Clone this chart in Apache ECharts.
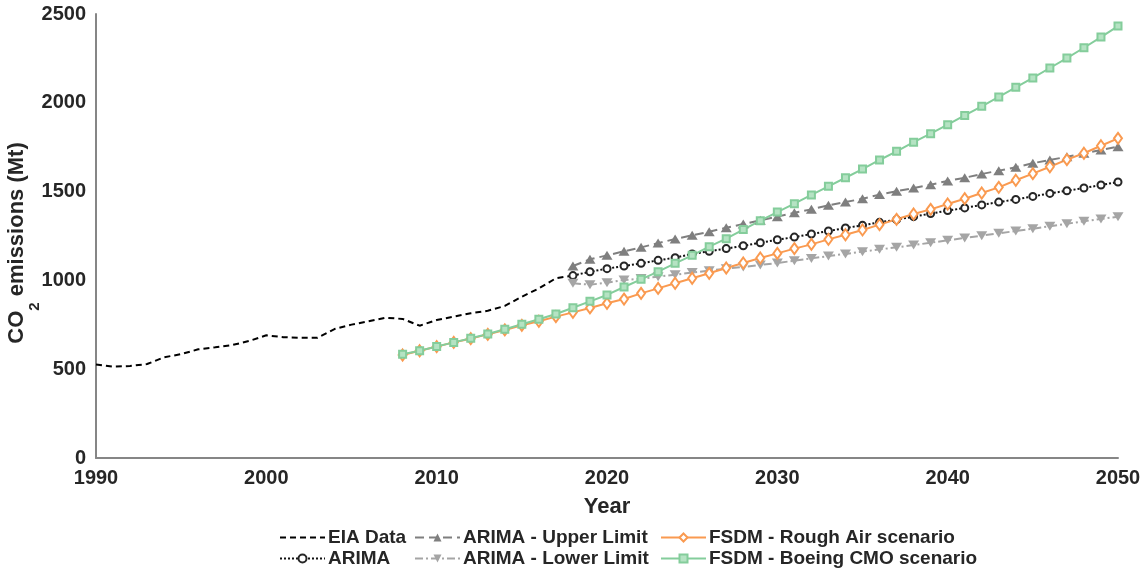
<!DOCTYPE html>
<html>
<head>
<meta charset="utf-8">
<title>CO2 emissions</title>
<script src="https://cdn.jsdelivr.net/npm/echarts@6/dist/echarts.min.js"></script>
<style>
  html, body { margin: 0; padding: 0; background: #fff; }
  #chart { width: 1142px; height: 572px; }
</style>
</head>
<body>
<div id="chart"></div>
<script>
// first year of each block of values
const eiaStart = 1990
const arimaStart = 2018
const fsdmStart = 2008
const xTicks = [1990, 2000, 2010, 2020, 2030, 2040, 2050]
const yTicks = [0, 500, 1000, 1500, 2000, 2500]

const eiaData = [527, 514, 518, 529, 567, 585, 612, 623, 636, 659, 691, 680, 677, 677, 726, 751, 770, 790, 783, 745,
  777, 796, 815, 829, 856, 908, 955, 1012, 1027]
const arima = [1027, 1049, 1066, 1081, 1096, 1113, 1128, 1149, 1164, 1179, 1195, 1212, 1229, 1244, 1261, 1278, 1295,
  1310, 1327, 1342, 1359, 1376, 1393, 1408, 1425, 1441, 1456, 1473, 1490, 1505, 1520, 1537, 1554]
const arimaUpper = [1081, 1119, 1141, 1164, 1186, 1210, 1233, 1254, 1274, 1297, 1317, 1338, 1359, 1381, 1400, 1423, 1441,
  1460, 1483, 1502, 1520, 1539, 1560, 1578, 1599, 1618, 1637, 1660, 1678, 1696, 1716, 1734, 1753]
const arimaLower = [984, 976, 987, 1002, 1010, 1021, 1032, 1044, 1055, 1066, 1076, 1087, 1098, 1111, 1124, 1137, 1149,
  1162, 1175, 1186, 1199, 1212, 1226, 1239, 1252, 1265, 1278, 1291, 1305, 1319, 1333, 1346, 1359]
const roughAir = [580, 604, 627, 651, 672, 696, 721, 747, 770, 796, 820, 845, 871, 895, 927, 955, 984, 1012, 1040, 1070,
  1098, 1126, 1152, 1179, 1203, 1231, 1257, 1284, 1314, 1344, 1374, 1400, 1430, 1460, 1492, 1524, 1564, 1601, 1640, 1680,
  1716, 1758, 1800]
const boeingCmo = [584, 604, 628, 651, 674, 698, 725, 753, 781, 811, 846, 882, 918, 963, 1006, 1049, 1096, 1141, 1190, 1235,
  1286, 1336, 1385, 1432, 1481, 1530, 1578, 1627, 1678, 1727, 1778, 1826, 1877, 1929, 1980, 2033, 2087, 2140, 2196, 2252,
  2310, 2370, 2432]

let font = "'Liberation Sans', Arial, sans-serif"
let textColor = "#262626"

function pairs(start, values) {
  return values.map((v, i) => [start + i, v])
}

function lineSeries(name, start, values, style) {
  return Object.assign({
    name: name,
    type: 'line',
    data: pairs(start, values),
    symbol: 'none',
    smooth: false,
    z: 2
  }, style)
}

let series = [
  lineSeries('EIA Data', eiaStart, eiaData, {
    itemStyle: { color: '#000' },
    lineStyle: { color: '#000', width: 2, type: [6, 4] }
  }),
  lineSeries('ARIMA', arimaStart, arima, {
    symbol: 'circle', symbolSize: 7,
    itemStyle: { color: '#fff', borderColor: '#262626', borderWidth: 2 },
    lineStyle: { color: '#111', width: 2, type: [2, 2] }
  }),
  lineSeries('ARIMA - Upper Limit', arimaStart, arimaUpper, {
    symbol: 'triangle', symbolSize: [11, 9],
    itemStyle: { color: '#7f7f7f' },
    lineStyle: { color: '#7f7f7f', width: 2, type: [9, 5] }
  }),
  lineSeries('ARIMA - Lower Limit', arimaStart, arimaLower, {
    symbol: 'triangle', symbolSize: [11, 9], symbolRotate: 180,
    itemStyle: { color: '#a5a5a5' },
    lineStyle: { color: '#a5a5a5', width: 2, type: [8, 3, 2, 3] }
  }),
  lineSeries('FSDM - Rough Air scenario', fsdmStart, roughAir, {
    symbol: 'diamond', symbolSize: [8, 11],
    itemStyle: { color: '#fff', borderColor: '#fa9a50', borderWidth: 2 },
    lineStyle: { color: '#fa9a50', width: 2 }
  }),
  lineSeries('FSDM - Boeing CMO scenario', fsdmStart, boeingCmo, {
    symbol: 'rect', symbolSize: 7,
    itemStyle: { color: '#b5e3c3', borderColor: '#84cd9b', borderWidth: 2 },
    lineStyle: { color: '#84cd9b', width: 2 }
  })
]

function legendColumn(left, names) {
  return {
    orient: 'vertical',
    left: left,
    top: 528,
    itemWidth: 45,
    itemHeight: 10,
    itemGap: 2,
    padding: 0,
    data: names,
    textStyle: { fontFamily: font, fontWeight: 'bold', fontSize: 19, color: textColor, padding: [0, 0, 0, -2] }
  }
}

let plainNumber = (v) => String(v)
let axisText = { margin: 10, fontFamily: font, fontWeight: 'bold', fontSize: 20, color: textColor, formatter: plainNumber }

let option = {
  animation: false,
  backgroundColor: '#fff',
  grid: { left: 96, right: 24, top: 14, bottom: 114, outerBoundsMode: 'none' },
  legend: [
    legendColumn(279, [{ name: 'EIA Data', itemStyle: { opacity: 0 } }, 'ARIMA']),
    legendColumn(414, ['ARIMA - Upper Limit', 'ARIMA - Lower Limit']),
    legendColumn(660, ['FSDM - Rough Air scenario', 'FSDM - Boeing CMO scenario'])
  ],
  xAxis: {
    type: 'value',
    min: xTicks[0],
    max: xTicks[xTicks.length - 1],
    interval: xTicks[1] - xTicks[0],
    name: 'Year',
    nameLocation: 'middle',
    nameGap: 38,
    nameMoveOverlap: false,
    nameTextStyle: { fontFamily: font, fontWeight: 'bold', fontSize: 22, color: textColor },
    axisLine: { show: true, lineStyle: { color: '#868686', width: 2 } },
    axisTick: { show: false },
    splitLine: { show: false },
    axisLabel: axisText
  },
  yAxis: {
    type: 'value',
    min: yTicks[0],
    max: yTicks[yTicks.length - 1],
    interval: yTicks[1] - yTicks[0],
    name: '{n|CO}{s|2}{n| emissions (Mt)}',
    nameLocation: 'middle',
    nameGap: 54,
    nameMoveOverlap: false,
    nameTextStyle: {
      padding: [0, 14, 0, 0],
      rich: {
        n: { fontFamily: font, fontWeight: 'bold', fontSize: 22, color: textColor, lineHeight: 22, verticalAlign: 'top' },
        s: { fontFamily: font, fontWeight: 'bold', fontSize: 15, color: textColor, lineHeight: 36, verticalAlign: 'bottom' }
      }
    },
    axisLine: { show: true, lineStyle: { color: '#868686', width: 2 } },
    axisTick: { show: false },
    splitLine: { show: false },
    axisLabel: axisText
  },
  series: series
}

let chart = echarts.init(document.getElementById('chart'))
chart.setOption(option)
window.addEventListener('resize', function () {
  chart.resize()
})
</script>
</body>
</html>
